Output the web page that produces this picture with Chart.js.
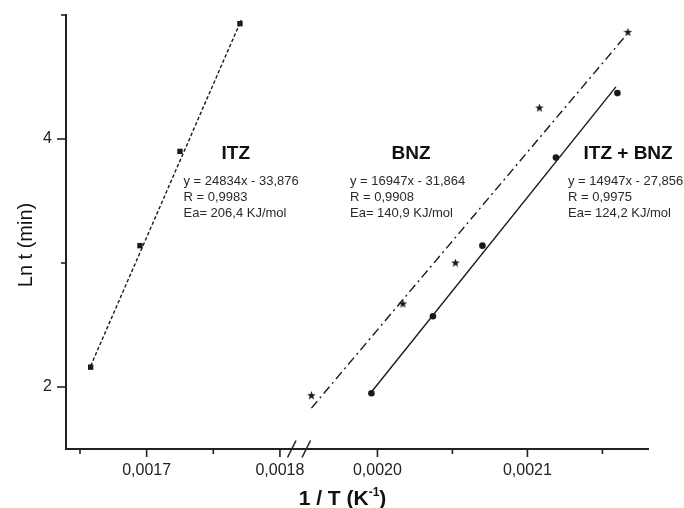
<!DOCTYPE html>
<html>
<head>
<meta charset="utf-8">
<script src="https://cdn.jsdelivr.net/npm/chart.js@4.4.1/dist/chart.umd.min.js"></script>
<style>
  body { margin: 0; background: #fff; }
  canvas { display: block; }
</style>
</head>
<body>
<canvas id="chartJSContainer" width="684" height="508"></canvas>
<script>
// measured points (1/T, ln t)
var itzX = [0.001658, 0.001695, 0.001725, 0.001770];
var itzY = [2.16, 3.14, 3.90, 4.93];
var bnzX = [0.001956, 0.002017, 0.002052, 0.002108, 0.002167];
var bnzY = [1.93, 2.67, 3.00, 4.25, 4.86];
var mixX = [0.001996, 0.002037, 0.002070, 0.002119, 0.002160];
var mixY = [1.95, 2.57, 3.14, 3.85, 4.37];

// ends of the fitted lines
var itzFitX = [0.001658, 0.001771];
var itzFitY = [2.17, 4.96];
var bnzFitX = [0.001956, 0.002166];
var bnzFitY = [1.83, 4.84];
var mixFitX = [0.001996, 0.002159];
var mixFitY = [1.96, 4.42];

// ticks
var yTicks = [2, 3, 4, 5];
var yMajor = [2, 4];
var xlTicks = [0.00165, 0.0017, 0.00175, 0.0018];
var xlMajor = [0.0017, 0.0018];
var xrTicks = [0.0020, 0.00205, 0.0021, 0.00215];
var xrMajor = [0.0020, 0.0021];

// text
var groupNames = ['ITZ', 'BNZ', 'ITZ + BNZ'];
var equations = ['y = 24834x - 33,876', 'y = 16947x - 31,864', 'y = 14947x - 27,856'];
var rValues = ['R = 0,9983', 'R = 0,9908', 'R = 0,9975'];
var eaValues = ['Ea= 206,4 KJ/mol', 'Ea= 140,9 KJ/mol', 'Ea= 124,2 KJ/mol'];

var ink = '#1a1a1a';
var fontFamily = '"Liberation Sans", Arial, sans-serif';
Chart.defaults.font.family = fontFamily;
Chart.defaults.color = '#222';

function pts(xs, ys) {
  return xs.map((x, i) => ({ x: x, y: ys[i] }));
}

function isIn(list, v) {
  return list.some(m => Math.abs(m - v) < 1e-9);
}

function makeStar(size) {
  var c = document.createElement('canvas');
  c.width = size;
  c.height = size;
  var g = c.getContext('2d');
  g.fillStyle = ink;
  g.beginPath();
  for (var i = 0; i < 10; i++) {
    var r = i % 2 ? size * 0.21 : size / 2;
    var a = -Math.PI / 2 + i * Math.PI / 5;
    g.lineTo(size / 2 + r * Math.cos(a), size / 2 + r * Math.sin(a));
  }
  g.closePath();
  g.fill();
  return c;
}

function line(ctx, x1, y1, x2, y2) {
  ctx.beginPath();
  ctx.moveTo(x1, y1);
  ctx.lineTo(x2, y2);
  ctx.stroke();
}

const axisDecor = {
  id: 'axisDecor',
  afterDraw(chart) {
    const ctx = chart.ctx;
    const y = chart.scales.y;
    const xl = chart.scales.xl;
    const xr = chart.scales.xr;
    ctx.save();
    ctx.strokeStyle = '#222';
    ctx.lineWidth = 1.6;
    yTicks.forEach(v => {
      const py = y.getPixelForValue(v);
      const len = isIn(yMajor, v) ? 9 : 5;
      line(ctx, y.right - len, py, y.right, py);
    });
    [[xl, xlTicks, xlMajor], [xr, xrTicks, xrMajor]].forEach(s => {
      s[1].forEach(v => {
        const px = s[0].getPixelForValue(v);
        const len = isIn(s[2], v) ? 8 : 5;
        line(ctx, px, s[0].top, px, s[0].top + len);
      });
    });
    // axis break
    const bx = xl.right;
    const by = xl.top;
    ctx.lineWidth = 1.5;
    line(ctx, bx - 11.5, by + 8.5, bx - 3, by - 8.5);
    line(ctx, bx + 3, by + 8.5, bx + 11.5, by - 8.5);

    // axis titles
    ctx.fillStyle = '#111';
    ctx.textBaseline = 'alphabetic';
    ctx.font = 'bold 21px ' + fontFamily;
    const main = '1 / T (K';
    const sup = '-1';
    const close = ')';
    const wMain = ctx.measureText(main).width;
    const wClose = ctx.measureText(close).width;
    ctx.font = 'bold 12px ' + fontFamily;
    const wSup = ctx.measureText(sup).width;
    const total = wMain + wSup + wClose;
    let tx = 342.5 - total / 2;
    const ty = 505;
    ctx.textAlign = 'left';
    ctx.font = 'bold 21px ' + fontFamily;
    ctx.fillText(main, tx, ty);
    ctx.font = 'bold 12px ' + fontFamily;
    ctx.fillText(sup, tx + wMain, ty - 9);
    ctx.font = 'bold 21px ' + fontFamily;
    ctx.fillText(close, tx + wMain + wSup, ty);

    ctx.translate(31.5, 245);
    ctx.rotate(-Math.PI / 2);
    ctx.textAlign = 'center';
    ctx.font = '20px ' + fontFamily;
    ctx.fillText('Ln t (min)', 0, 0);
    ctx.restore();
  }
};

const notes = {
  id: 'notes',
  afterDraw(chart) {
    const ctx = chart.ctx;
    const spots = [
      { title: 221.5, text: 183.5 },
      { title: 391.5, text: 350 },
      { title: 583.5, text: 568 }
    ];
    ctx.save();
    ctx.textAlign = 'left';
    ctx.textBaseline = 'alphabetic';
    groupNames.forEach((name, i) => {
      ctx.fillStyle = '#111';
      ctx.font = 'bold 19px ' + fontFamily;
      ctx.fillText(name, spots[i].title, 158.5);
      ctx.fillStyle = '#2a2a2a';
      ctx.font = '13px ' + fontFamily;
      ctx.fillText(equations[i], spots[i].text, 184.7);
      ctx.fillText(rValues[i], spots[i].text, 200.7);
      ctx.fillText(eaValues[i], spots[i].text, 216.7);
    });
    ctx.restore();
  }
};

const star = makeStar(9);

const data = {
  datasets: [
    {
      label: 'ITZ fit',
      data: pts(itzFitX, itzFitY),
      xAxisID: 'xl',
      showLine: true,
      borderColor: ink,
      borderWidth: 1.4,
      borderDash: [3.5, 2.2],
      pointRadius: 0
    },
    {
      label: 'BNZ fit',
      data: pts(bnzFitX, bnzFitY),
      xAxisID: 'xr',
      showLine: true,
      borderColor: ink,
      borderWidth: 1.4,
      borderDash: [9, 4, 2, 4],
      pointRadius: 0
    },
    {
      label: 'ITZ + BNZ fit',
      data: pts(mixFitX, mixFitY),
      xAxisID: 'xr',
      showLine: true,
      borderColor: ink,
      borderWidth: 1.4,
      pointRadius: 0
    },
    {
      label: 'ITZ',
      data: pts(itzX, itzY),
      xAxisID: 'xl',
      pointStyle: 'rect',
      pointRadius: 3.8,
      backgroundColor: ink,
      borderColor: ink,
      borderWidth: 0
    },
    {
      label: 'BNZ',
      data: pts(bnzX, bnzY),
      xAxisID: 'xr',
      pointStyle: star,
      pointRadius: 4,
      backgroundColor: ink,
      borderColor: ink
    },
    {
      label: 'ITZ + BNZ',
      data: pts(mixX, mixY),
      xAxisID: 'xr',
      pointStyle: 'circle',
      pointRadius: 3.3,
      backgroundColor: ink,
      borderColor: ink,
      borderWidth: 0
    }
  ]
};

function xLabel(list) {
  return function(v) {
    return isIn(list, v) ? v.toFixed(4).replace('.', ',') : '';
  };
}

function noPad(s) {
  s.paddingTop = 0;
  s.paddingBottom = 0;
  s.paddingLeft = 0;
  s.paddingRight = 0;
}

const options = {
  type: 'scatter',
  data: data,
  options: {
    responsive: false,
    animation: false,
    layout: { padding: { top: 15, right: 36, left: 0, bottom: 0 } },
    plugins: {
      legend: { display: false },
      tooltip: { enabled: false }
    },
    scales: {
      y: {
        type: 'linear',
        position: 'left',
        min: 1.5,
        max: 5,
        afterFit: s => { s.width = 66; noPad(s); },
        afterBuildTicks: s => { s.ticks = yTicks.map(v => ({ value: v })); },
        grid: { display: false, drawTicks: false },
        border: { display: true, width: 2, color: '#222' },
        ticks: {
          padding: 14,
          autoSkip: false,
          font: { size: 16 },
          color: '#222',
          callback: v => isIn(yMajor, v) ? String(v) : ''
        }
      },
      xl: {
        type: 'linear',
        position: 'bottom',
        stack: 'x',
        stackWeight: 233,
        min: 0.0016395,
        max: 0.0018143,
        afterFit: s => { s.height = 59; noPad(s); },
        afterBuildTicks: s => { s.ticks = xlTicks.map(v => ({ value: v })); },
        grid: { display: false, drawTicks: false },
        border: { display: true, width: 2, color: '#222' },
        ticks: { padding: 12, autoSkip: false, font: { size: 16 }, color: '#222', maxRotation: 0, callback: xLabel(xlMajor) }
      },
      xr: {
        type: 'linear',
        position: 'bottom',
        stack: 'x',
        stackWeight: 349,
        min: 0.0019477,
        max: 0.0021804,
        afterFit: s => { s.height = 59; noPad(s); },
        afterBuildTicks: s => { s.ticks = xrTicks.map(v => ({ value: v })); },
        grid: { display: false, drawTicks: false },
        border: { display: true, width: 2, color: '#222' },
        ticks: { padding: 12, autoSkip: false, font: { size: 16 }, color: '#222', maxRotation: 0, callback: xLabel(xrMajor) }
      }
    }
  },
  plugins: [axisDecor, notes]
};

const ctx = document.getElementById('chartJSContainer').getContext('2d');
const chart = new Chart(ctx, options);
</script>
</body>
</html>
